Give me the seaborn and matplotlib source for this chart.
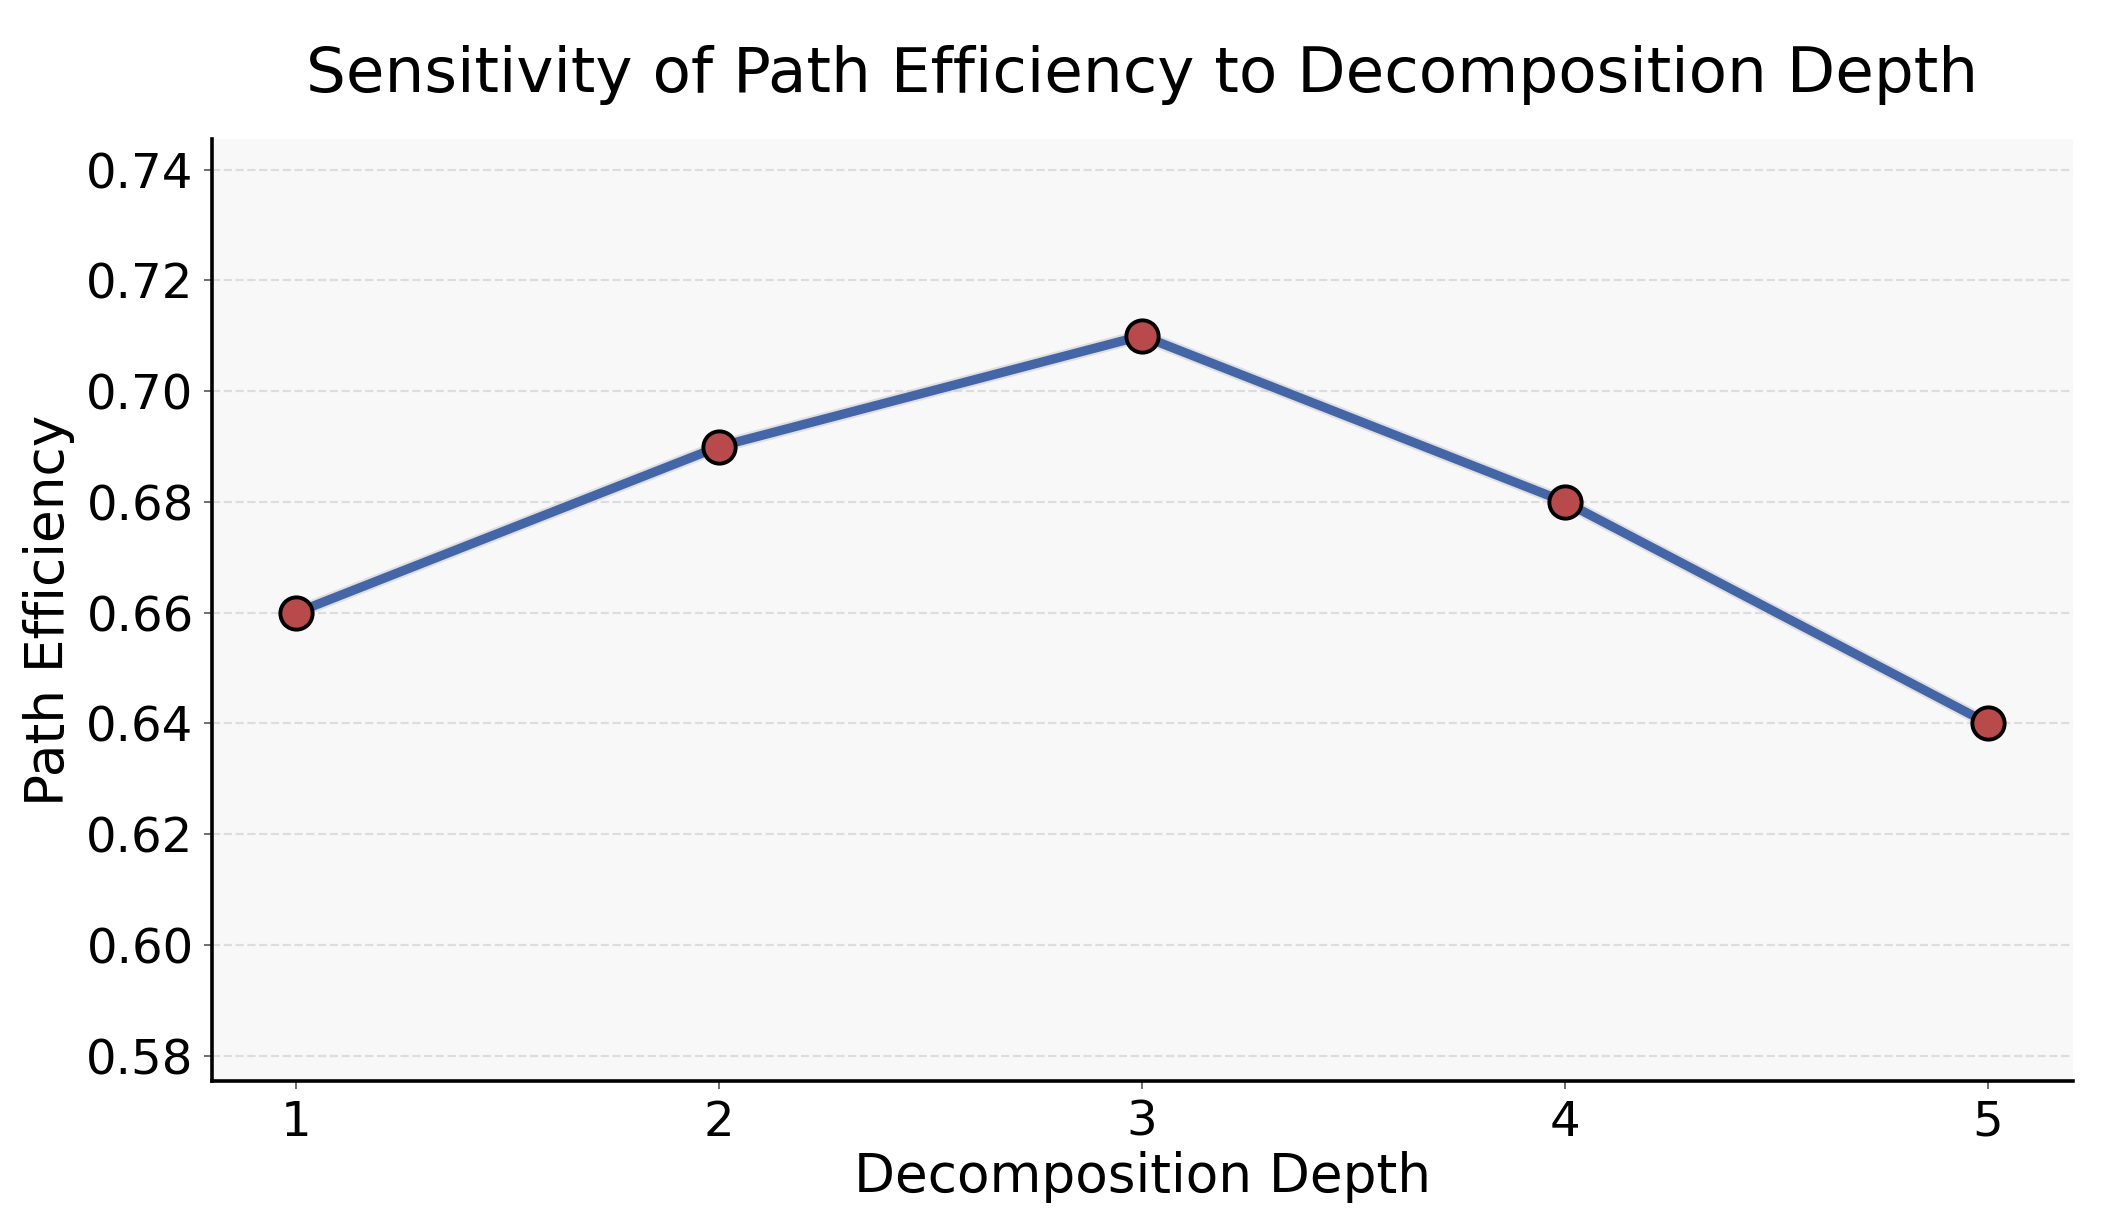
import pandas as pd
import matplotlib
matplotlib.use("Agg")
import matplotlib.pyplot as plt
import matplotlib.patheffects as pe
import seaborn as sns

# Data
depths = [1, 2, 3, 4, 5]
efficiency = [0.66, 0.69, 0.71, 0.68, 0.64]
y_ticks = [0.58, 0.60, 0.62, 0.64, 0.66, 0.68, 0.70, 0.72, 0.74]

df = pd.DataFrame({"Decomposition Depth": depths, "Path Efficiency": efficiency})

sns.set_style("white")
plt.rcParams["font.family"] = ["DejaVu Sans"]
plt.rcParams["text.color"] = "black"
plt.rcParams["axes.labelcolor"] = "black"
plt.rcParams["xtick.labelcolor"] = "black"
plt.rcParams["ytick.labelcolor"] = "black"

fig = plt.figure(figsize=(10.585, 6.105), dpi=200)
ax = fig.add_axes([0.100, 0.115, 0.879, 0.771])
ax.set_facecolor("#f8f8f8")

# line with a faint shadow
sns.lineplot(data=df, x="Decomposition Depth", y="Path Efficiency", ax=ax,
             color="#4466a6", linewidth=3.3,
             path_effects=[pe.Stroke(linewidth=4.8, foreground="#c8c8d0", alpha=0.5), pe.Normal()],
             zorder=3)
# markers on top
sns.scatterplot(data=df, x="Decomposition Depth", y="Path Efficiency", ax=ax,
                color="#b84a4c", s=135, edgecolor="black", linewidth=1.4, zorder=4)

ax.set_xlim(0.8, 5.2)
ax.set_ylim(0.5755, 0.7455)
ax.set_xticks(depths)
ax.set_yticks(y_ticks)
ax.set_yticklabels([f"{v:.2f}" for v in y_ticks])
ax.yaxis.grid(True, linestyle="--", color="#dddddd", linewidth=0.8)
ax.xaxis.grid(False)

for s in ["top", "right"]:
    ax.spines[s].set_visible(False)
for s in ["left", "bottom"]:
    ax.spines[s].set_color("black")
    ax.spines[s].set_linewidth(1.3)

ax.tick_params(axis="both", labelsize=17.4, length=3, width=0.6, color="#555555", left=True, bottom=True)
ax.set_xlabel("Decomposition Depth", fontsize=19.2, labelpad=2)
ax.set_ylabel("Path Efficiency", fontsize=19.2, labelpad=4)
ax.set_title("Sensitivity of Path Efficiency to Decomposition Depth", fontsize=22.6, pad=17)

fig.savefig("out.png", dpi=200)
